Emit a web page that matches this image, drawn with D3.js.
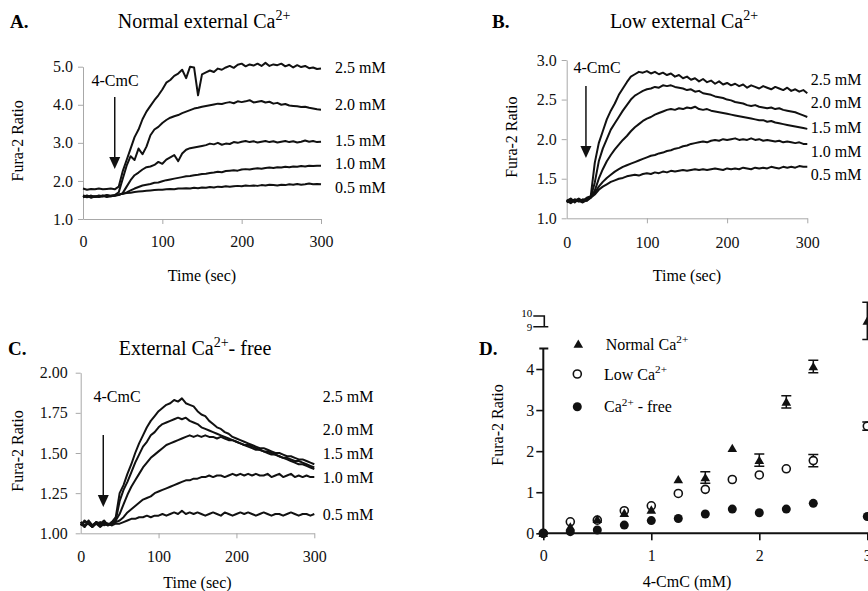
<!DOCTYPE html>
<html>
<head>
<meta charset="utf-8">
<script src="https://cdn.jsdelivr.net/npm/d3@7/dist/d3.min.js"></script>
<style>
  body { margin: 0; background: #fff; }
  svg, svg text { font-family: "Liberation Serif", "Times New Roman", serif; }
  svg { display: block; }
</style>
</head>
<body>
<svg id="fig" width="868" height="591" font-family="Liberation Serif"></svg>
<script>
// ---- data: Fura-2 ratio traces, sampled every 5 s ----
const timeSec = [0,5,10,15,20,25,30,35,40,45,50,55,60,65,70,75,80,85,90,95,
  100,105,110,115,120,125,130,135,140,145,150,155,160,165,170,175,180,185,190,195,
  200,205,210,215,220,225,230,235,240,245,250,255,260,265,270,275,280,285,290,295,300];
const concLabels = ["2.5 mM", "2.0 mM", "1.5 mM", "1.0 mM", "0.5 mM"];

// A. normal external Ca2+
const normal25 = [1.80,1.77,1.79,1.78,1.80,1.78,1.79,1.80,1.78,1.85, 2.25,2.55,2.85,3.15,3.35,3.62,3.82,3.97,4.12,4.25,
  4.40,4.58,4.65,4.76,4.82,4.92,4.70,5.00,4.98,4.25, 4.80,4.85,4.90,4.86,4.95,4.92,4.98,5.02,4.97,5.05,
  5.08,5.01,5.06,5.03,5.08,5.02,5.10,5.02,5.06,5.04, 5.08,5.01,5.05,4.98,5.04,4.99,5.02,4.96,4.98,4.94, 4.95];
const normal20 = [1.58,1.62,1.57,1.60,1.59,1.62,1.60,1.61,1.63,1.70, 2.05,2.40,2.65,2.55,2.85,2.70,2.90,3.20,3.35,3.42,
  3.52,3.60,3.66,3.70,3.73,3.78,3.82,3.86,3.90,3.92, 3.95,3.97,3.99,4.01,4.03,4.02,4.05,4.07,4.04,4.09,
  4.07,4.09,4.12,4.06,4.08,4.10,4.06,4.08,4.03,4.05, 4.00,4.02,3.98,3.97,3.96,3.94,3.95,3.92,3.90,3.88, 3.87];
const normal15 = [1.60,1.57,1.61,1.58,1.60,1.59,1.62,1.60,1.61,1.63, 1.68,1.85,2.02,2.15,2.22,2.30,2.36,2.38,2.42,2.50,
  2.45,2.56,2.62,2.68,2.52,2.72,2.82,2.86,2.88,2.90, 2.92,2.94,2.98,2.96,3.00,2.95,2.98,2.97,3.02,3.00,
  3.03,3.05,3.02,3.04,3.01,3.03,3.05,3.02,3.04,3.01, 3.03,3.05,3.02,3.04,3.01,3.03,3.06,3.03,3.05,3.02, 3.03];
const normal10 = [1.57,1.60,1.56,1.59,1.58,1.61,1.58,1.60,1.62,1.64, 1.66,1.70,1.75,1.80,1.84,1.88,1.90,1.92,1.95,1.96,
  1.99,2.02,2.04,2.06,2.08,2.10,2.12,2.13,2.15,2.16, 2.18,2.19,2.21,2.22,2.24,2.23,2.26,2.27,2.28,2.27,
  2.30,2.31,2.30,2.32,2.33,2.32,2.34,2.35,2.34,2.36, 2.35,2.37,2.36,2.38,2.37,2.39,2.38,2.40,2.39,2.40, 2.40];
const normal05 = [1.62,1.59,1.61,1.58,1.62,1.60,1.63,1.61,1.62,1.64, 1.66,1.68,1.69,1.71,1.72,1.73,1.74,1.75,1.76,1.77,
  1.77,1.78,1.79,1.78,1.80,1.80,1.81,1.80,1.82,1.81, 1.83,1.82,1.84,1.83,1.85,1.84,1.86,1.85,1.86,1.87,
  1.86,1.88,1.87,1.88,1.87,1.89,1.88,1.90,1.89,1.88, 1.90,1.89,1.91,1.90,1.92,1.90,1.91,1.93,1.91,1.92, 1.91];

// B. low external Ca2+
const low25 = [1.22,1.25,1.20,1.24,1.22,1.26,1.28,1.70,1.95,2.10, 2.25,2.36,2.45,2.56,2.64,2.72,2.79,2.82,2.85,2.84,
  2.86,2.83,2.85,2.82,2.84,2.81,2.83,2.79,2.81,2.77, 2.79,2.75,2.77,2.73,2.76,2.72,2.74,2.70,2.73,2.69,
  2.71,2.68,2.70,2.67,2.69,2.65,2.68,2.66,2.64,2.67, 2.65,2.63,2.66,2.64,2.62,2.65,2.61,2.63,2.60,2.62, 2.58];
const low20 = [1.20,1.23,1.21,1.24,1.22,1.24,1.27,1.45,1.72,1.88, 2.00,2.12,2.20,2.28,2.36,2.43,2.50,2.55,2.58,2.61,
  2.63,2.64,2.66,2.65,2.68,2.67,2.68,2.66,2.65,2.64, 2.62,2.63,2.60,2.61,2.58,2.57,2.56,2.54,2.53,2.52,
  2.50,2.49,2.47,2.46,2.45,2.43,2.42,2.43,2.41,2.40, 2.39,2.40,2.38,2.39,2.37,2.36,2.35,2.34,2.32,2.30, 2.28];
const low15 = [1.22,1.19,1.23,1.21,1.24,1.22,1.26,1.35,1.50,1.62, 1.72,1.80,1.87,1.93,1.99,2.04,2.10,2.15,2.19,2.23,
  2.26,2.28,2.31,2.33,2.35,2.37,2.38,2.37,2.39,2.38, 2.40,2.39,2.41,2.38,2.37,2.38,2.36,2.35,2.34,2.33,
  2.32,2.31,2.30,2.29,2.28,2.27,2.26,2.25,2.24,2.24, 2.22,2.23,2.21,2.20,2.19,2.18,2.17,2.16,2.15,2.14, 2.13];
const low10 = [1.23,1.21,1.24,1.22,1.20,1.23,1.27,1.32,1.40,1.46, 1.51,1.55,1.59,1.62,1.65,1.67,1.69,1.71,1.73,1.75,
  1.77,1.79,1.80,1.82,1.83,1.85,1.86,1.88,1.89,1.91, 1.92,1.94,1.95,1.96,1.97,1.96,1.98,1.99,1.98,2.00,
  1.99,2.00,2.01,1.99,2.00,1.99,2.01,1.99,2.00,1.98, 1.99,1.98,1.97,1.98,1.96,1.97,1.96,1.95,1.96,1.94, 1.94];
const low05 = [1.21,1.24,1.22,1.25,1.21,1.24,1.26,1.30,1.36,1.40, 1.43,1.46,1.48,1.50,1.51,1.53,1.54,1.55,1.54,1.56,
  1.57,1.56,1.58,1.57,1.59,1.58,1.60,1.59,1.60,1.61, 1.60,1.61,1.62,1.61,1.62,1.61,1.62,1.63,1.62,1.61,
  1.63,1.62,1.63,1.62,1.64,1.63,1.62,1.64,1.63,1.64, 1.63,1.65,1.64,1.63,1.65,1.64,1.65,1.64,1.66,1.65, 1.65];

// C. Ca2+-free
const free25 = [1.07,1.04,1.08,1.05,1.07,1.06,1.08,1.05,1.07,1.10, 1.25,1.30,1.37,1.43,1.50,1.56,1.61,1.66,1.70,1.73,
  1.76,1.78,1.80,1.81,1.83,1.82,1.84,1.81,1.80,1.79, 1.76,1.74,1.73,1.70,1.68,1.66,1.65,1.63,1.62,1.60,
  1.59,1.58,1.57,1.56,1.55,1.54,1.53,1.53,1.52,1.51, 1.50,1.50,1.49,1.48,1.48,1.47,1.46,1.46,1.45,1.44, 1.43];
const free20 = [1.05,1.08,1.06,1.04,1.07,1.05,1.07,1.06,1.05,1.08, 1.20,1.27,1.32,1.38,1.44,1.49,1.54,1.57,1.61,1.63,
  1.66,1.68,1.69,1.70,1.71,1.72,1.71,1.72,1.70,1.69, 1.68,1.66,1.65,1.64,1.63,1.62,1.61,1.60,1.59,1.58,
  1.57,1.56,1.55,1.54,1.53,1.52,1.52,1.51,1.50,1.49, 1.49,1.48,1.47,1.47,1.46,1.45,1.45,1.44,1.43,1.42, 1.41];
const free15 = [1.06,1.04,1.07,1.05,1.06,1.04,1.06,1.05,1.07,1.08, 1.12,1.18,1.24,1.29,1.33,1.37,1.41,1.44,1.47,1.49,
  1.51,1.53,1.55,1.56,1.57,1.58,1.59,1.60,1.61,1.60, 1.61,1.60,1.61,1.60,1.60,1.59,1.60,1.59,1.58,1.58,
  1.57,1.56,1.55,1.55,1.54,1.53,1.52,1.51,1.51,1.50, 1.49,1.48,1.47,1.46,1.45,1.44,1.43,1.43,1.42,1.41, 1.40];
const free10 = [1.07,1.05,1.06,1.04,1.07,1.05,1.06,1.05,1.06,1.07, 1.08,1.10,1.13,1.15,1.17,1.19,1.21,1.22,1.23,1.25,
  1.26,1.27,1.28,1.29,1.30,1.31,1.32,1.33,1.33,1.34, 1.34,1.35,1.35,1.36,1.35,1.36,1.36,1.35,1.36,1.37,
  1.36,1.37,1.36,1.37,1.36,1.37,1.36,1.36,1.37,1.35, 1.36,1.37,1.35,1.36,1.37,1.35,1.36,1.35,1.36,1.35, 1.35];
const free05 = [1.05,1.07,1.06,1.04,1.06,1.07,1.05,1.06,1.05,1.06, 1.06,1.07,1.08,1.09,1.09,1.10,1.10,1.11,1.10,1.11,
  1.11,1.12,1.11,1.12,1.13,1.12,1.14,1.12,1.13,1.12, 1.13,1.12,1.11,1.12,1.13,1.12,1.11,1.13,1.12,1.11,
  1.12,1.13,1.12,1.13,1.12,1.11,1.12,1.13,1.12,1.11, 1.12,1.12,1.11,1.12,1.13,1.12,1.11,1.12,1.12,1.11, 1.12];

// D. dose response (mean +/- error)
const doseMM     = [0, 0.25, 0.5, 0.75, 1, 1.25, 1.5, 1.75, 2, 2.25, 2.5, 3];
const normalMean = [0, 0.16, 0.34, 0.49, 0.57, 1.31, 1.36, 2.07, 1.78, 3.20, 4.06, 9.5];
const normalErr  = [0, 0, 0, 0, 0, 0, 0.14, 0, 0.15, 0.15, 0.15, 1.6];
const lowMean    = [0, 0.28, 0.32, 0.55, 0.67, 0.97, 1.07, 1.31, 1.42, 1.57, 1.77, 2.61];
const lowErr     = [0, 0, 0, 0, 0, 0, 0, 0, 0, 0, 0.15, 0.1];
const freeMean   = [0, 0.04, 0.08, 0.20, 0.31, 0.36, 0.47, 0.59, 0.50, 0.59, 0.73, 0.41];

const SERIF = "'Liberation Serif', 'Times New Roman', serif";
const svg = d3.select("#fig");

// text with superscript parts, e.g. [["Ca"], ["2+", true]]
function rich(sel, parts, size) {
  let shift = 0;
  parts.forEach(([t, sup]) => {
    const target = sup ? -0.38 * size : 0;
    sel.append("tspan")
      .attr("dy", target - shift)
      .style("font-size", sup ? (size * 0.7) + "px" : null)
      .text(t);
    shift = target;
  });
}

function styleAxis(a, color) {
  a.attr("font-family", SERIF).attr("font-size", 16);
  a.selectAll("path, line").attr("stroke", color);
  a.selectAll("text").attr("fill", "#111").style("font-family", SERIF).style("font-size", "16px");
}

// Panel layout for the three trace plots
const tracePanels = [
  { letter: "A.", letterX: 10, title: [["Normal external Ca"], ["2+", true]], titleX: 204, titleY: 28,
    xr: [83, 321], yr: [219, 66.7], yDomain: [1, 5], yTicks: [1, 2, 3, 4, 5], fmt: ".1f",
    traces: [normal25, normal20, normal15, normal10, normal05],
    labelX: 335, labelVals: [4.98, 4.02, 3.07, 2.47, 1.84],
    arrowT: 40, arrowTop: 97, cmcX: 115, cmcY: 85.5, ylabX: 17, xlabY: 281, xPad: 12, yPad: 5 },
  { letter: "B.", letterX: 492, title: [["Low external Ca"], ["2+", true]], titleX: 684, titleY: 28,
    xr: [566.7, 807.3], yr: [218.3, 60], yDomain: [1, 3], yTicks: [1, 1.5, 2, 2.5, 3], fmt: ".1f",
    traces: [low25, low20, low15, low10, low05],
    labelX: 810.7, labelVals: [2.75, 2.46, 2.15, 1.84, 1.55],
    arrowT: 24, arrowTop: 86, cmcX: 597, cmcY: 72.5, ylabX: 511, xlabY: 281, xPad: 13, yPad: 5 },
  { letter: "C.", letterX: 8, title: [["External Ca"], ["2+", true], ["- free"]], titleX: 195, titleY: 355,
    xr: [80.7, 314.3], yr: [533.3, 372.7], yDomain: [1, 2], yTicks: [1, 1.25, 1.5, 1.75, 2], fmt: ".2f",
    traces: [free25, free20, free15, free10, free05],
    labelX: 322.7, labelVals: [1.85, 1.65, 1.50, 1.35, 1.12],
    arrowT: 29, arrowTop: 435, cmcX: 117, cmcY: 402, ylabX: 17, xlabY: 588, xPad: 12.5, yPad: 8 }
];

tracePanels.forEach(p => {
  const x = d3.scaleLinear().domain([0, 300]).range(p.xr);
  const y = d3.scaleLinear().domain(p.yDomain).range(p.yr);
  const g = svg.append("g");

  g.append("text").attr("x", p.letterX).attr("y", p.titleY)
    .style("font-size", "19px").style("font-weight", "bold").text(p.letter);
  rich(g.append("text").attr("x", p.titleX).attr("y", p.titleY)
    .attr("text-anchor", "middle").style("font-size", "20px"), p.title, 20);

  // axes (light grey, Excel style)
  const yAxis = g.append("g").attr("transform", `translate(${p.xr[0]},0)`)
    .call(d3.axisLeft(y).tickValues(p.yTicks).tickFormat(d3.format(p.fmt))
      .tickSize(5).tickSizeOuter(0).tickPadding(p.yPad));
  const xAxis = g.append("g").attr("transform", `translate(0,${p.yr[0]})`)
    .call(d3.axisBottom(x).tickValues([0, 100, 200, 300])
      .tickSize(5).tickSizeOuter(0).tickPadding(p.xPad));
  styleAxis(yAxis, "#a8a8a8");
  styleAxis(xAxis, "#a8a8a8");
  xAxis.select(".tick").select("line").remove();

  g.append("text")
    .attr("transform", `translate(${p.ylabX},${(p.yr[0] + p.yr[1]) / 2 - 2}) rotate(-90)`)
    .attr("text-anchor", "middle").attr("dy", "0.35em")
    .style("font-size", "16px").text("Fura-2 Ratio");
  g.append("text").attr("x", (p.xr[0] + p.xr[1]) / 2).attr("y", p.xlabY)
    .attr("text-anchor", "middle").style("font-size", "16px").text("Time (sec)");

  const line = d3.line().x((d, i) => x(timeSec[i])).y(d => y(d));
  g.selectAll(".trace").data(p.traces).join("path")
    .attr("class", "trace")
    .attr("d", line)
    .attr("fill", "none")
    .attr("stroke", "#111")
    .attr("stroke-width", 2)
    .attr("stroke-linejoin", "round");

  g.selectAll(".conc").data(concLabels).join("text")
    .attr("class", "conc")
    .attr("x", p.labelX)
    .attr("y", (d, i) => y(p.labelVals[i]))
    .attr("dy", "0.35em")
    .style("font-size", "16px")
    .text(d => d);

  // 4-CmC addition arrow
  const ax = x(p.arrowT);
  const tipY = p.arrowTop + 72;
  g.append("line").attr("x1", ax).attr("x2", ax)
    .attr("y1", p.arrowTop).attr("y2", tipY - 8)
    .attr("stroke", "#111").attr("stroke-width", 1.5);
  g.append("path")
    .attr("d", `M${ax - 5.5},${tipY - 12} L${ax + 5.5},${tipY - 12} L${ax},${tipY} Z`)
    .attr("fill", "#111");
  g.append("text").attr("x", p.cmcX).attr("y", p.cmcY)
    .attr("text-anchor", "middle").style("font-size", "16px").text("4-CmC");
});

// ---- Panel D: dose response ----
const gD = svg.append("g");
const xD = d3.scaleLinear().domain([0, 3]).range([543.3, 867.3]);
const yLow = d3.scaleLinear().domain([0, 4]).range([533.3, 369]);
const yHigh = d3.scaleLinear().domain([9, 10]).range([326.7, 315]);
const yD = v => (v > 6 ? yHigh(v) : yLow(v));

gD.append("text").attr("x", 479).attr("y", 355)
  .style("font-size", "19px").style("font-weight", "bold").text("D.");

const yAxD = gD.append("g").attr("transform", `translate(${xD(0)},0)`)
  .call(d3.axisLeft(yLow).tickValues([0, 1, 2, 3, 4]).tickFormat(d3.format("d"))
    .tickSize(7).tickSizeOuter(0).tickPadding(2));
yAxD.select(".domain").remove();
const xAxD = gD.append("g").attr("transform", `translate(0,${yLow(0)})`)
  .call(d3.axisBottom(xD).tickValues([0, 1, 2, 3]).tickFormat(d3.format("d"))
    .tickSize(7).tickSizeOuter(0).tickPadding(9));
xAxD.select(".domain").remove();
styleAxis(yAxD, "#111");
styleAxis(xAxD, "#111");
gD.selectAll(".tick line").attr("stroke-width", 1.6);

// axis lines with the broken top
gD.append("path")
  .attr("d", `M${xD(0)},${yLow(4.5)} V${yLow(0)} H868 M${xD(0) - 4},${yLow(4.5)} H${xD(0) + 5}`)
  .attr("fill", "none").attr("stroke", "#111").attr("stroke-width", 2);
gD.append("path")
  .attr("d", `M${xD(0) - 10},${yHigh(10) + 1} H${xD(0) + 1} V${yHigh(9)} M${xD(0) - 10},${yHigh(9)} H${xD(0) + 5}`)
  .attr("fill", "none").attr("stroke", "#111").attr("stroke-width", 1.6);
gD.append("text").attr("x", xD(0) - 11).attr("y", yHigh(10) + 2)
  .attr("text-anchor", "end").style("font-size", "11px").text("10");
gD.append("text").attr("x", xD(0) - 11).attr("y", yHigh(9) + 4.5)
  .attr("text-anchor", "end").style("font-size", "11px").text("9");

gD.append("text")
  .attr("transform", `translate(497,425) rotate(-90)`)
  .attr("text-anchor", "middle").attr("dy", "0.35em")
  .style("font-size", "16px").text("Fura-2 Ratio");
gD.append("text").attr("x", 687).attr("y", 587)
  .attr("text-anchor", "middle").style("font-size", "16px").text("4-CmC (mM)");

function errorBars(mean, err) {
  const rows = doseMM.map((d, i) => ({ x: d, m: mean[i], e: err[i] })).filter(r => r.e > 0);
  rows.forEach(r => {
    const cx = xD(r.x), top = yD(r.m + r.e), bot = yD(r.m - r.e);
    gD.append("path")
      .attr("d", `M${cx},${top} V${bot} M${cx - 5},${top} H${cx + 5} M${cx - 5},${bot} H${cx + 5}`)
      .attr("fill", "none").attr("stroke", "#111").attr("stroke-width", 1.5);
  });
}
errorBars(lowMean, lowErr);
errorBars(normalMean, normalErr);

const tri = d3.symbol().type(d3.symbolTriangle).size(40);

gD.selectAll(".low").data(lowMean).join("circle")
  .attr("class", "low")
  .attr("cx", (d, i) => xD(doseMM[i])).attr("cy", d => yD(d)).attr("r", 4)
  .attr("fill", "#fff").attr("stroke", "#111").attr("stroke-width", 1.6);
gD.selectAll(".normal").data(normalMean).join("path")
  .attr("class", "normal")
  .attr("d", tri)
  .attr("transform", (d, i) => `translate(${xD(doseMM[i])},${yD(d) + 1})`)
  .attr("fill", "#111");
gD.selectAll(".free").data(freeMean).join("circle")
  .attr("class", "free")
  .attr("cx", (d, i) => xD(doseMM[i])).attr("cy", d => yD(d)).attr("r", 4.5)
  .attr("fill", "#111");

// legend
const leg = gD.append("g");
leg.append("path").attr("d", tri).attr("transform", "translate(578.3,345)").attr("fill", "#111");
leg.append("circle").attr("cx", 577.3).attr("cy", 374).attr("r", 4)
  .attr("fill", "#fff").attr("stroke", "#111").attr("stroke-width", 1.6);
leg.append("circle").attr("cx", 577.3).attr("cy", 406.7).attr("r", 4.5).attr("fill", "#111");
rich(leg.append("text").attr("x", 605.7).attr("y", 349.5).style("font-size", "16px"),
  [["Normal Ca"], ["2+", true]], 16);
rich(leg.append("text").attr("x", 604).attr("y", 379.5).style("font-size", "16px"),
  [["Low Ca"], ["2+", true]], 16);
rich(leg.append("text").attr("x", 604).attr("y", 412).style("font-size", "16px"),
  [["Ca"], ["2+", true], [" - free"]], 16);
</script>
</body>
</html>
